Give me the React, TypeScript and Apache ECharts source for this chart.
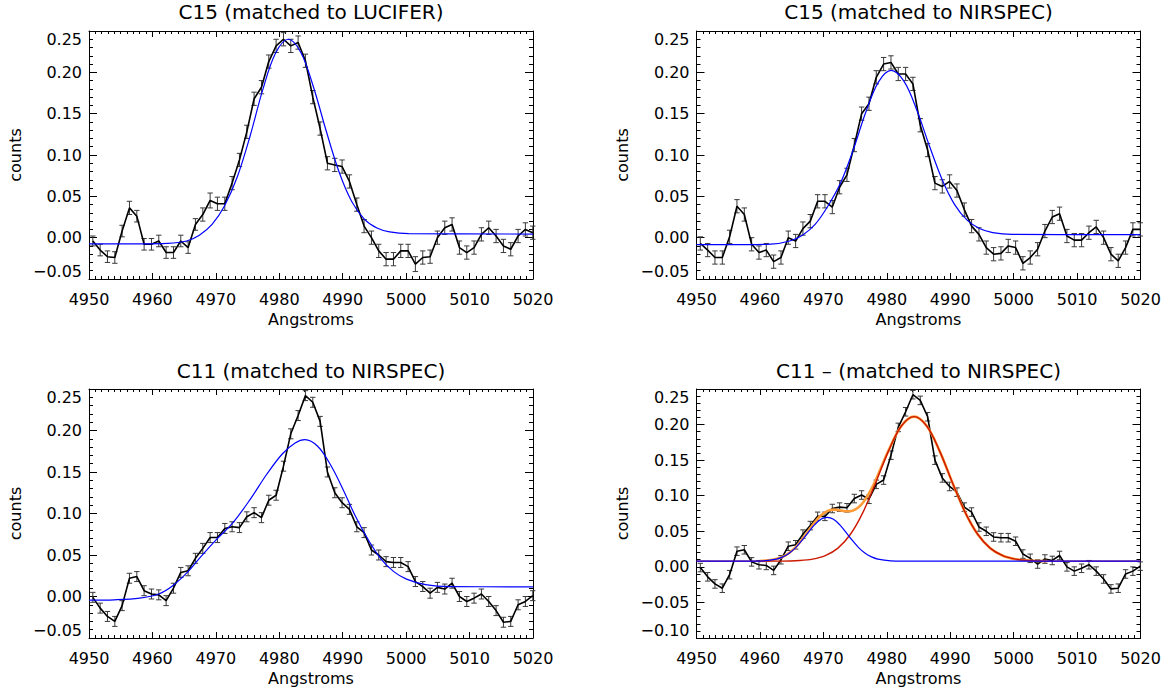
import { useEffect, useRef } from 'react';
import * as echarts from 'echarts';

const FONT = 'DejaVu Sans';
const TITLE_FONT = '"DejaVu Sans ExtraLight", "DejaVu Sans"';

// Wavelength grid of the spectra (Angstroms)
const WAVELENGTH = [
  4950.60, 4951.76, 4952.91, 4954.07, 4955.22, 4956.38, 4957.54, 4958.69, 4959.85, 4961.00,
  4962.16, 4963.32, 4964.47, 4965.63, 4966.78, 4967.94, 4969.10, 4970.25, 4971.41, 4972.56,
  4973.72, 4974.88, 4976.03, 4977.19, 4978.34, 4979.50, 4980.66, 4981.81, 4982.97, 4984.12,
  4985.28, 4986.44, 4987.59, 4988.75, 4989.90, 4991.06, 4992.22, 4993.37, 4994.53, 4995.68,
  4996.84, 4998.00, 4999.15, 5000.31, 5001.46, 5002.62, 5003.78, 5004.93, 5006.09, 5007.24,
  5008.40, 5009.56, 5010.71, 5011.87, 5013.02, 5014.18, 5015.34, 5016.49, 5017.65, 5018.80,
  5019.96,
];

// C15 matched to LUCIFER
const C15_LUCIFER = [
  -0.004, -0.015, -0.023, -0.024, 0.008, 0.036, 0.026, -0.008, -0.008, -0.004,
  -0.018, -0.018, -0.004, -0.012, 0.016, 0.028, 0.045, 0.041, 0.041, 0.066,
  0.094, 0.128, 0.168, 0.182, 0.213, 0.232, 0.240, 0.232, 0.236, 0.214,
  0.170, 0.132, 0.090, 0.088, 0.086, 0.068, 0.040, 0.014, 0.000, -0.016,
  -0.026, -0.026, -0.016, -0.016, -0.032, -0.024, -0.023, 0.000, 0.012, 0.016,
  -0.012, -0.018, -0.012, 0.004, 0.012, 0.002, -0.010, -0.014, 0.002, 0.010,
  0.006,
];
const C15_LUCIFER_ERR = [
  0.006, 0.007, 0.007, 0.007, 0.007, 0.008, 0.007, 0.007, 0.007, 0.007,
  0.007, 0.007, 0.007, 0.007, 0.007, 0.008, 0.009, 0.008, 0.008, 0.008,
  0.008, 0.008, 0.008, 0.008, 0.008, 0.008, 0.008, 0.008, 0.008, 0.008,
  0.008, 0.008, 0.008, 0.008, 0.008, 0.008, 0.008, 0.008, 0.008, 0.008,
  0.008, 0.008, 0.008, 0.008, 0.009, 0.008, 0.008, 0.008, 0.008, 0.008,
  0.008, 0.008, 0.008, 0.008, 0.008, 0.008, 0.008, 0.008, 0.008, 0.008,
  0.008,
];

// C15 matched to NIRSPEC
const C15_NIRSPEC = [
  -0.007, -0.015, -0.024, -0.024, 0.001, 0.038, 0.028, -0.008, -0.018, -0.015,
  -0.029, -0.024, 0.000, -0.004, 0.011, 0.020, 0.044, 0.044, 0.037, 0.061,
  0.076, 0.112, 0.150, 0.162, 0.194, 0.210, 0.212, 0.198, 0.198, 0.186,
  0.136, 0.106, 0.066, 0.062, 0.068, 0.057, 0.034, 0.014, 0.004, -0.012,
  -0.020, -0.019, -0.010, -0.012, -0.031, -0.024, -0.014, 0.008, 0.025, 0.029,
  0.002, -0.003, -0.003, 0.006, 0.013, 0.000, -0.020, -0.028, -0.012, 0.010,
  0.010,
];
const C15_NIRSPEC_ERR = [
  0.008, 0.008, 0.008, 0.008, 0.008, 0.008, 0.008, 0.008, 0.008, 0.008,
  0.008, 0.008, 0.008, 0.008, 0.008, 0.008, 0.008, 0.008, 0.008, 0.008,
  0.008, 0.008, 0.008, 0.008, 0.008, 0.008, 0.008, 0.008, 0.008, 0.008,
  0.008, 0.008, 0.008, 0.008, 0.008, 0.008, 0.008, 0.008, 0.008, 0.008,
  0.008, 0.008, 0.008, 0.008, 0.008, 0.008, 0.008, 0.008, 0.008, 0.008,
  0.008, 0.008, 0.008, 0.008, 0.008, 0.008, 0.008, 0.008, 0.008, 0.008,
  0.008,
];

// C11 matched to NIRSPEC (shown in both lower panels)
const C11_NIRSPEC = [
  -0.001, -0.014, -0.024, -0.030, -0.011, 0.022, 0.024, 0.007, 0.003, 0.002,
  -0.005, 0.010, 0.029, 0.031, 0.046, 0.058, 0.071, 0.071, 0.082, 0.084,
  0.083, 0.096, 0.101, 0.095, 0.116, 0.122, 0.157, 0.196, 0.218, 0.242,
  0.234, 0.211, 0.150, 0.125, 0.113, 0.105, 0.084, 0.077, 0.056, 0.050,
  0.042, 0.041, 0.041, 0.036, 0.018, 0.012, 0.004, 0.011, 0.009, 0.016,
  0.000, -0.006, -0.002, 0.003, -0.006, -0.017, -0.031, -0.030, -0.010, -0.006,
  0.001,
];
const C11_NIRSPEC_ERR = [
  0.006, 0.006, 0.006, 0.006, 0.006, 0.006, 0.006, 0.006, 0.006, 0.006,
  0.006, 0.006, 0.006, 0.006, 0.006, 0.006, 0.006, 0.006, 0.006, 0.006,
  0.006, 0.006, 0.006, 0.006, 0.006, 0.006, 0.006, 0.006, 0.006, 0.006,
  0.006, 0.006, 0.006, 0.006, 0.006, 0.006, 0.006, 0.006, 0.006, 0.006,
  0.006, 0.006, 0.006, 0.006, 0.006, 0.006, 0.006, 0.006, 0.006, 0.006,
  0.006, 0.006, 0.006, 0.006, 0.006, 0.006, 0.006, 0.006, 0.006, 0.006,
  0.006,
];

// Fitted model curves as [Angstrom, counts]
const FIT_C15_LUCIFER = [
  [4950, -0.0076], [4958, -0.0076], [4962.4, -0.0070], [4965.4, -0.004], [4967.4, 0.003],
  [4969.4, 0.016], [4971.4, 0.039], [4973.4, 0.074], [4975.4, 0.123], [4977.4, 0.179],
  [4979.4, 0.223], [4981.4, 0.240], [4983.4, 0.224], [4985.4, 0.182], [4987.4, 0.129],
  [4989.4, 0.080], [4991.4, 0.044], [4993.4, 0.0225], [4995.4, 0.0116], [4997.4, 0.0069],
  [5000.4, 0.0048], [5020, 0.0044],
];
const FIT_C15_NIRSPEC = [
  [4950, -0.0084], [4958, -0.0084], [4961.7, -0.0079], [4964.7, -0.004], [4966.7, 0.003],
  [4968.7, 0.016], [4970.7, 0.038], [4972.7, 0.066], [4974.7, 0.106], [4976.7, 0.152],
  [4978.7, 0.1885], [4980.7, 0.2024], [4982.7, 0.1893], [4984.7, 0.1551], [4986.7, 0.1115],
  [4988.7, 0.0708], [4990.7, 0.040], [4992.7, 0.0209], [4994.7, 0.0108], [4996.7, 0.0062],
  [4999.7, 0.004], [5020, 0.0036],
];
const FIT_C11_SINGLE = [
  [4950, -0.0044], [4954, -0.004], [4958, -0.002], [4961, 0.003], [4963.2, 0.013],
  [4965.5, 0.029], [4967.4, 0.046], [4970, 0.068], [4972.7, 0.089], [4975.5, 0.118],
  [4978, 0.147], [4980.5, 0.172], [4982.5, 0.185], [4984.05, 0.189], [4986.05, 0.181],
  [4988.05, 0.159], [4990.05, 0.129], [4992.05, 0.096], [4994.05, 0.068], [4996.05, 0.045],
  [4998.05, 0.030], [5000.05, 0.021], [5003.05, 0.0144], [5007, 0.012], [5020, 0.0116],
];
const FIT_C11_BLUE = [
  [4950, 0.008], [4958.6, 0.0081], [4960.6, 0.0085], [4962.6, 0.0109], [4963.6, 0.0140],
  [4964.6, 0.0191], [4965.6, 0.0267], [4966.6, 0.0368], [4967.6, 0.0481], [4968.6, 0.0589],
  [4969.6, 0.0668], [4970.6, 0.0696], [4971.6, 0.0668], [4972.6, 0.0589], [4973.6, 0.0481],
  [4974.6, 0.0368], [4975.6, 0.0267], [4976.6, 0.0191], [4977.6, 0.0140], [4978.6, 0.0109],
  [4980.6, 0.0085], [4982.6, 0.0081], [5020, 0.008],
];
const FIT_C11_RED = [
  [4950, 0.008], [4963.3, 0.0081], [4966.3, 0.0089], [4968.3, 0.0108], [4970.3, 0.0157],
  [4972.3, 0.0263], [4974.3, 0.0462], [4976.3, 0.0777], [4978.3, 0.1194], [4980.3, 0.1634],
  [4982.3, 0.1980], [4984.3, 0.2112], [4986.3, 0.1980], [4988.3, 0.1634], [4990.3, 0.1194],
  [4992.3, 0.0777], [4994.3, 0.0462], [4996.3, 0.0263], [4998.3, 0.0157], [5000.3, 0.0108],
  [5002.3, 0.0089], [5005.3, 0.0081], [5020, 0.008],
];
const FIT_C11_SUM = [
  [4960, 0.0083], [4962, 0.0098], [4963.6, 0.0141], [4964.6, 0.0194], [4965.6, 0.0273],
  [4966.6, 0.0379], [4967.6, 0.0500], [4968.6, 0.0622], [4969.6, 0.0723], [4970.6, 0.0784],
  [4971.6, 0.0805], [4972.6, 0.0795], [4973.6, 0.0781], [4974.6, 0.0790], [4975.6, 0.0841],
  [4976.6, 0.0945], [4977.6, 0.1099], [4978.6, 0.1290], [4980.3, 0.1641], [4982.3, 0.1981],
  [4984.3, 0.2112], [4986.3, 0.1980], [4988.3, 0.1634], [4990.3, 0.1194], [4992.3, 0.0777],
  [4994.3, 0.0462], [4996.3, 0.0263], [4998.3, 0.0157], [5000.3, 0.0108], [5002.3, 0.0089],
  [5005.3, 0.0081],
];

const TITLES = [
  'C15 (matched to LUCIFER)',
  'C15 (matched to NIRSPEC)',
  'C11 (matched to NIRSPEC)',
  'C11 \u2013 (matched to NIRSPEC)',
];
const X_NAME = 'Angstroms';
const Y_NAME = 'counts';
const X_RANGE = [4950, 5020];
const Y_RANGES = [
  [-0.05, 0.25],
  [-0.05, 0.25],
  [-0.05, 0.25],
  [-0.1, 0.25],
];

const GRIDS = [
  { left: 89, top: 31, width: 444, height: 248 },
  { left: 696.5, top: 31, width: 444, height: 248 },
  { left: 89, top: 389, width: 444, height: 249 },
  { left: 696.5, top: 389, width: 444, height: 249 },
];

function fmtY(v: number) {
  const s = Math.abs(v).toFixed(2);
  return v < -1e-9 ? '\u2212' + s : s;
}

function fmtX(v: number) {
  return String(Math.round(v));
}

function errorBarSeries(p: number, vals: number[], errs: number[]) {
  return {
    type: 'custom',
    xAxisIndex: 2 * p,
    yAxisIndex: 2 * p,
    silent: true,
    encode: { x: 0, y: 1 },
    data: WAVELENGTH.map((x, i) => [x, vals[i], errs[i]]),
    renderItem: (_params: any, api: any) => {
      const x = api.value(0);
      const y = api.value(1);
      const e = api.value(2);
      const t = api.coord([x, y + e]);
      const b = api.coord([x, y - e]);
      const hw = 2.7;
      const style = { stroke: '#3a3a3a', lineWidth: 1 };
      return {
        type: 'group',
        children: [
          { type: 'line', shape: { x1: t[0], y1: t[1], x2: b[0], y2: b[1] }, style },
          { type: 'line', shape: { x1: t[0] - hw, y1: t[1], x2: t[0] + hw, y2: t[1] }, style },
          { type: 'line', shape: { x1: b[0] - hw, y1: b[1], x2: b[0] + hw, y2: b[1] }, style },
        ],
      };
    },
    z: 3,
  };
}

function dataLine(p: number, vals: number[]) {
  return {
    type: 'line',
    xAxisIndex: 2 * p,
    yAxisIndex: 2 * p,
    data: WAVELENGTH.map((x, i) => [x, vals[i]]),
    symbol: 'none',
    lineStyle: { color: '#000', width: 1.6 },
    silent: true,
    z: 4,
  };
}

function fitLine(p: number, pts: number[][], color: string, width: number, z: number) {
  return {
    type: 'line',
    xAxisIndex: 2 * p,
    yAxisIndex: 2 * p,
    data: pts,
    symbol: 'none',
    smooth: 0.35,
    lineStyle: { color, width },
    silent: true,
    z,
  };
}

function buildOption() {
  const xAxis: any[] = [];
  const yAxis: any[] = [];
  const labelStyle = { color: '#000', fontSize: 16, fontFamily: FONT };
  GRIDS.forEach((_g, p) => {
    const common = {
      type: 'value',
      gridIndex: p,
      min: X_RANGE[0],
      max: X_RANGE[1],
      interval: 10,
      splitLine: { show: false },
      axisLine: { show: true, onZero: false, lineStyle: { color: '#000', width: 1 } },
      axisTick: { show: true, inside: true, length: 6, lineStyle: { color: '#000', width: 1 } },
      minorTick: { show: true, splitNumber: 10, length: 3, lineStyle: { color: '#000', width: 1 } },
    };
    xAxis.push({
      ...common,
      position: 'bottom',
      axisLabel: { ...labelStyle, margin: 12, formatter: fmtX },
      name: X_NAME,
      nameLocation: 'middle',
      nameGap: 32,
      nameTextStyle: { ...labelStyle },
    });
    xAxis.push({ ...common, position: 'top', axisLabel: { show: false } });
    const yc = {
      type: 'value',
      gridIndex: p,
      min: Y_RANGES[p][0],
      max: Y_RANGES[p][1],
      interval: 0.05,
      splitLine: { show: false },
      axisLine: { show: true, onZero: false, lineStyle: { color: '#000', width: 1 } },
      axisTick: { show: true, inside: true, length: 8, lineStyle: { color: '#000', width: 1 } },
      minorTick: { show: true, splitNumber: 5, length: 4, lineStyle: { color: '#000', width: 1 } },
    };
    yAxis.push({
      ...yc,
      position: 'left',
      axisLabel: {
        ...labelStyle,
        margin: 7,
        formatter: fmtY,
        verticalAlignMinLabel: 'bottom',
        verticalAlignMaxLabel: 'top',
      },
      name: Y_NAME,
      nameLocation: 'middle',
      nameGap: 66,
      nameRotate: 90,
      nameTextStyle: { ...labelStyle },
    });
    yAxis.push({ ...yc, position: 'right', axisLabel: { show: false } });
  });

  const title = TITLES.map((t, p) => ({
    text: t,
    left: GRIDS[p].left + GRIDS[p].width / 2,
    top: p < 2 ? 2 : 361,
    textAlign: 'center',
    padding: 0,
    textStyle: { color: '#000', fontSize: 20, fontWeight: 'normal', fontFamily: TITLE_FONT },
  }));

  const series: any[] = [
    dataLine(0, C15_LUCIFER),
    errorBarSeries(0, C15_LUCIFER, C15_LUCIFER_ERR),
    fitLine(0, FIT_C15_LUCIFER, '#0000ff', 1.2, 5),

    dataLine(1, C15_NIRSPEC),
    errorBarSeries(1, C15_NIRSPEC, C15_NIRSPEC_ERR),
    fitLine(1, FIT_C15_NIRSPEC, '#0000ff', 1.2, 5),

    dataLine(2, C11_NIRSPEC),
    errorBarSeries(2, C11_NIRSPEC, C11_NIRSPEC_ERR),
    fitLine(2, FIT_C11_SINGLE, '#0000ff', 1.2, 5),

    dataLine(3, C11_NIRSPEC),
    errorBarSeries(3, C11_NIRSPEC, C11_NIRSPEC_ERR),
    fitLine(3, FIT_C11_SUM, '#ff9c38', 2.6, 5),
    fitLine(3, FIT_C11_RED, '#cc1800', 1.4, 6),
    fitLine(3, FIT_C11_BLUE, '#0000ff', 1.2, 7),
  ];

  return {
    animation: false,
    backgroundColor: '#fff',
    title,
    grid: GRIDS.map((g) => ({ ...g, containLabel: false })),
    xAxis,
    yAxis,
    series,
  };
}

export default function App() {
  const ref = useRef<HTMLDivElement>(null);
  useEffect(() => {
    if (!ref.current) return;
    const chart = echarts.init(ref.current, undefined, { renderer: 'svg' });
    chart.setOption(buildOption() as any);
    return () => chart.dispose();
  }, []);
  return (
    <div
      ref={ref}
      style={{ position: 'fixed', left: 0, top: 0, width: 1170, height: 692, background: '#fff' }}
    />
  );
}
